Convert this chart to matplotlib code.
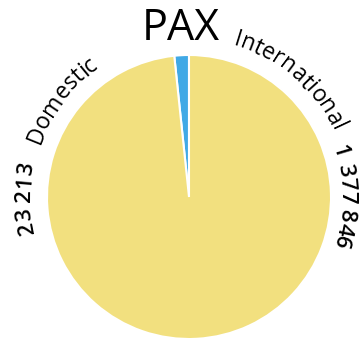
import numpy as np
import matplotlib
matplotlib.use('Agg')
import matplotlib.pyplot as plt
from matplotlib.font_manager import FontProperties, findfont
from matplotlib.ft2font import FT2Font

# data
labels = ['Domestic', 'International']
values = [23213, 1377846]
value_text = ['23 213', '1 377 846']
colors = ['#40a9e6', '#f2e07f']
title = 'PAX'

W, H = 364, 344
fig = plt.figure(figsize=(W / 100, H / 100), dpi=100)
ax = fig.add_axes([0, 0, 1, 1])

cx, cy, rad = 189, H - 197, 142
ax.pie(values, colors=colors, startangle=90, counterclock=True,
       center=(cx, cy), radius=rad,
       wedgeprops=dict(edgecolor='white', linewidth=1.5))
ax.set_xlim(0, W)
ax.set_ylim(0, H)
ax.set_aspect('equal')
ax.axis('off')


def advances(s, fp):
    # glyph advances in pixels (1 data unit == 1 pixel here)
    font = FT2Font(findfont(fp))
    font.set_size(fp.get_size_in_points(), 100)
    out = []
    for ch in s:
        g = font.load_char(ord(ch))
        out.append(g.linearHoriAdvance / 65536)
    return out


def arc_text(s, start_deg, r, fp):
    # text read clockwise along a circle, tops facing outward
    adv = advances(s, fp)
    pos = 0.0
    for ch, a in zip(s, adv):
        mid = pos + a / 2
        pos += a
        if ch == ' ':
            continue
        th = np.radians(start_deg) - mid / r
        ax.text(cx + r * np.cos(th), cy + r * np.sin(th), ch,
                fontproperties=fp, rotation=np.degrees(th) - 90,
                rotation_mode='anchor', ha='center', va='baseline',
                color='black')


name_fp = FontProperties(family='Open Sans', size=16.5)
val_fp = FontProperties(family='Open Sans', size=16, weight='semibold')

# Domestic: value then name, on the left
arc_text(value_text[0], 193, 159, val_fp)
arc_text(labels[0], 161, 158, name_fp)
# International: name then value, on the right
arc_text(labels[1], 74, 158, name_fp)
arc_text(value_text[1], 19, 152, val_fp)

ax.text(181, H - 40, title, fontproperties=FontProperties(family='Open Sans', size=31),
        ha='center', va='baseline', color='black')

fig.savefig('out.png', dpi=100)
